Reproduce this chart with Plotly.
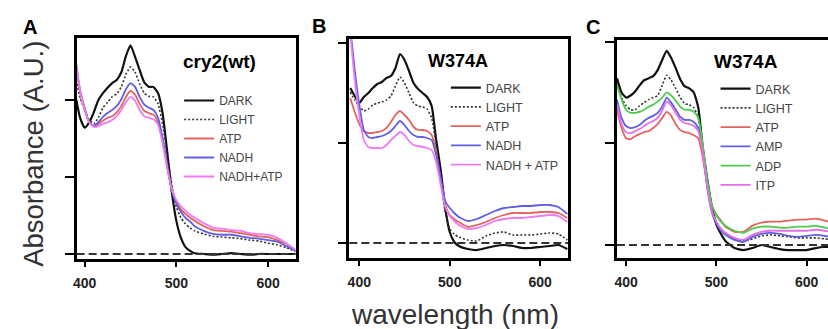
import plotly.graph_objects as go

# ---------------- data ----------------
WL_A = [391, 395, 400, 405, 410, 415, 420, 425, 430, 435, 440, 445, 450, 455, 460, 465, 470, 475,
        480, 485, 490, 495, 500, 505, 510, 515, 520, 530, 540, 550, 560, 570, 580, 590, 600, 610, 620, 630]
DARK_A = [.200, .177, .164, .171, .184, .200, .209, .216, .222, .226, .236, .257, .271, .256, .239, .223, .217, .217,
          .209, .183, .133, .081, .043, .021, .009, .004, .001, .000, -.001, .000, .001, .000, -.001, .000, .000, .000, .000, .000]
LIGHT_A = [.226, .203, .187, .174, .169, .177, .190, .197, .204, .208, .217, .233, .243, .236, .221, .209, .205, .204,
           .195, .169, .129, .090, .061, .047, .039, .034, .030, .026, .023, .022, .021, .020, .018, .017, .014, .012, .008, .003]
ATP_A = [.242, .210, .187, .171, .166, .169, .173, .177, .179, .184, .192, .204, .212, .207, .195, .186, .183, .181,
         .171, .147, .113, .083, .068, .058, .052, .047, .043, .036, .031, .030, .029, .027, .025, .023, .022, .018, .013, .005]
NADH_A = [.246, .213, .190, .171, .166, .171, .178, .183, .187, .192, .201, .214, .222, .217, .204, .194, .190, .187,
          .177, .151, .116, .083, .065, .055, .047, .042, .036, .030, .026, .025, .025, .023, .021, .020, .018, .016, .010, .004]
NADHATP_A = [.244, .212, .188, .171, .165, .166, .169, .171, .174, .179, .187, .197, .204, .199, .187, .179, .177, .175,
             .168, .144, .112, .084, .070, .062, .056, .051, .047, .040, .034, .033, .031, .030, .027, .026, .025, .021, .014, .005]

WL_B = [390, 395, 400, 405, 410, 415, 420, 425, 430, 435, 440, 445, 450, 455, 460, 465, 470, 475,
        480, 485, 490, 495, 500, 505, 510, 520, 530, 540, 550, 560, 570, 580, 590, 600, 610, 620, 630]
DARK_B = [.155, .147, .140, .146, .150, .155, .159, .161, .165, .167, .175, .189, .183, .172, .160, .154, .150, .146,
          .137, .103, .073, .035, .011, .001, -.003, -.006, -.007, -.005, -.003, -.002, -.003, -.005, -.005, -.004, -.003, -.002, -.006]
LIGHT_B = [.151, .143, .137, .132, .134, .138, .140, .141, .143, .147, .157, .166, .160, .150, .140, .137, .136, .134,
           .125, .098, .063, .031, .014, .009, .006, .003, .002, .007, .010, .011, .008, .008, .008, .009, .010, .009, .003]
ATP_B = [.145, .131, .119, .112, .110, .110, .111, .112, .115, .121, .128, .132, .128, .123, .116, .113, .113, .112,
         .108, .091, .063, .038, .028, .024, .021, .016, .018, .021, .025, .028, .030, .030, .030, .031, .031, .030, .025]
NADH_B = [.215, .173, .138, .113, .106, .105, .106, .107, .109, .112, .117, .122, .118, .112, .108, .106, .106, .105,
          .103, .088, .065, .042, .035, .030, .026, .022, .024, .028, .032, .035, .036, .037, .037, .038, .038, .036, .029]
NADHATP_B = [.210, .163, .128, .103, .096, .095, .095, .095, .098, .103, .107, .111, .108, .102, .098, .097, .096, .095,
             .093, .081, .058, .036, .027, .022, .018, .014, .015, .018, .022, .024, .025, .025, .026, .027, .028, .027, .021]

WL_C = WL_B
DARK_C = [.164, .150, .145, .147, .151, .157, .162, .164, .166, .172, .182, .191, .184, .174, .163, .156, .154, .150,
          .135, .095, .064, .038, .020, .011, .004, -.003, -.005, -.003, .000, -.002, -.004, -.005, -.005, -.005, -.003, -.002, -.002]
LIGHT_C = [.160, .145, .137, .133, .133, .137, .140, .143, .145, .147, .157, .167, .162, .154, .145, .139, .138, .135,
           .125, .093, .059, .034, .023, .016, .011, .006, .004, .006, .009, .010, .009, .008, .007, .007, .007, .006, .005]
ATP_C = [.133, .115, .105, .104, .107, .109, .111, .112, .115, .119, .125, .131, .127, .119, .113, .111, .110, .108,
         .105, .086, .059, .039, .030, .024, .018, .013, .013, .019, .022, .023, .023, .024, .025, .025, .026, .024, .021]
AMP_C = [.143, .125, .117, .115, .116, .118, .122, .125, .127, .130, .136, .145, .140, .133, .126, .123, .123, .121,
         .115, .091, .056, .032, .021, .014, .010, .005, .003, .008, .011, .012, .011, .009, .008, .009, .010, .009, .007]
ADP_C = [.157, .143, .133, .130, .130, .131, .133, .136, .138, .141, .145, .150, .147, .142, .136, .133, .133, .131,
         .125, .098, .064, .039, .029, .023, .019, .014, .012, .016, .018, .018, .017, .017, .018, .018, .019, .017, .015]
ITP_C = [.138, .119, .111, .110, .112, .114, .117, .120, .122, .125, .132, .141, .137, .130, .123, .120, .119, .117,
         .112, .090, .056, .033, .023, .016, .012, .007, .005, .010, .013, .014, .014, .014, .014, .014, .015, .014, .012]

X_TICKS = [400, 500, 600]
Y_TICKS = [0, 0.1, 0.2]

# ---------------- styles ----------------
FONT = "Arial, Liberation Sans, sans-serif"
STY = {
    "DARK": dict(color="#111111", width=2.2),
    "LIGHT": dict(color="#333333", width=1.6, dash="2px,2px"),
    "ATP": dict(color="#e5635e", width=1.8),
    "NADH": dict(color="#5f5fe3", width=1.8),
    "AMP": dict(color="#5f5fe3", width=1.8),
    "NADH+ATP": dict(color="#f07af0", width=1.8),
    "NADH + ATP": dict(color="#f07af0", width=1.8),
    "ADP": dict(color="#4ccc4c", width=1.8),
    "ITP": dict(color="#e86ee8", width=1.8),
}

fig = go.Figure()

panels = [
    ("x", "y", "legend", WL_A, [("DARK", DARK_A), ("LIGHT", LIGHT_A), ("ATP", ATP_A), ("NADH", NADH_A), ("NADH+ATP", NADHATP_A)]),
    ("x2", "y2", "legend2", WL_B, [("DARK", DARK_B), ("LIGHT", LIGHT_B), ("ATP", ATP_B), ("NADH", NADH_B), ("NADH + ATP", NADHATP_B)]),
    ("x3", "y3", "legend3", WL_C, [("DARK", DARK_C), ("LIGHT", LIGHT_C), ("ATP", ATP_C), ("AMP", AMP_C), ("ADP", ADP_C), ("ITP", ITP_C)]),
]
for xa, ya, lg, wl, series in panels:
    for name, vals in series:
        fig.add_trace(go.Scatter(x=wl, y=vals, mode="lines", name=name, xaxis=xa, yaxis=ya, legend=lg,
                                 line=dict(shape="spline", smoothing=0.5, **STY[name])))
    fig.add_shape(type="line", xref=xa + " domain", x0=0, x1=1, yref=ya, y0=0, y1=0,
                  line=dict(color="#333333", width=1.8, dash="8px,4px"), layer="above")

W, H = 828, 329
def px_x(p): return p / W
def px_y(p): return 1 - p / H

xcommon = dict(tickvals=X_TICKS, ticks="outside", ticklen=5, tickwidth=2, tickcolor="black",
               showline=True, linewidth=2.5, linecolor="black", showgrid=False, zeroline=False,
               tickfont=dict(family=FONT, size=14, color="#222222", weight="bold"), ticklabelstandoff=4)
ycommon = dict(tickvals=Y_TICKS, ticks="outside", ticklen=9, tickwidth=2, tickcolor="black",
               showline=True, linewidth=2.5, linecolor="black", showgrid=False, zeroline=False,
               showticklabels=False)

def leg(x, y, size):
    return dict(x=px_x(x), y=px_y(y), xanchor="left", yanchor="top", bgcolor="rgba(0,0,0,0)", borderwidth=0,
                font=dict(family=FONT, size=size, color="#444444"), tracegroupgap=0, itemwidth=30)

fig.update_layout(
    width=W, height=H, autosize=False,
    margin=dict(l=0, r=0, t=0, b=0),
    paper_bgcolor="white", plot_bgcolor="white",
    showlegend=True,
    xaxis=dict(domain=[px_x(73), px_x(293)], range=[391.3, 630], anchor="y", mirror=True, **xcommon),
    yaxis=dict(domain=[px_y(259), px_y(38)], range=[-0.0065, 0.2805], anchor="x", mirror=True, **ycommon),
    xaxis2=dict(domain=[px_x(347), px_x(567)], range=[389, 631], anchor="y2", mirror=True, **xcommon),
    yaxis2=dict(domain=[px_y(258), px_y(39)], range=[-0.015, 0.204], anchor="x2", mirror=True, **ycommon),
    xaxis3=dict(domain=[px_x(616), 1.0], range=[390, 623.6], anchor="y3", mirror=True, **xcommon),
    yaxis3=dict(domain=[px_y(258), px_y(40)], range=[-0.0128, 0.2016], anchor="x3", mirror=False, **ycommon),
    legend=leg(176, 86, 12),
    legend2=leg(444, 73, 12.5),
    legend3=leg(715, 74, 12.5),
)

def ann(text, cx, cy, size, bold=False, color="black", angle=0):
    fig.add_annotation(text=text, x=px_x(cx), y=px_y(cy), xref="paper", yref="paper",
                       xanchor="center", yanchor="middle", showarrow=False, textangle=angle,
                       font=dict(family=FONT, size=size, color=color, weight="bold" if bold else "normal"))

ann("A", 26, 27, 20, bold=True)
ann("B", 317, 26, 20, bold=True)
ann("C", 592, 27, 20, bold=True)
ann("cry2(wt)", 217, 62, 19, bold=True)
ann("W374A", 456, 61, 18, bold=True)
ann("W374A", 746, 62, 19, bold=True)
ann("Absorbance (A.U.)", 29, 154, 27.5, color="#333333", angle=-90)
ann("wavelength (nm)", 453, 314, 28, color="#333333")

fig.write_html("out.html", config={"displayModeBar": False},
               post_script="document.body.style.margin='0';document.body.style.padding='0';document.body.style.overflow='hidden';")
